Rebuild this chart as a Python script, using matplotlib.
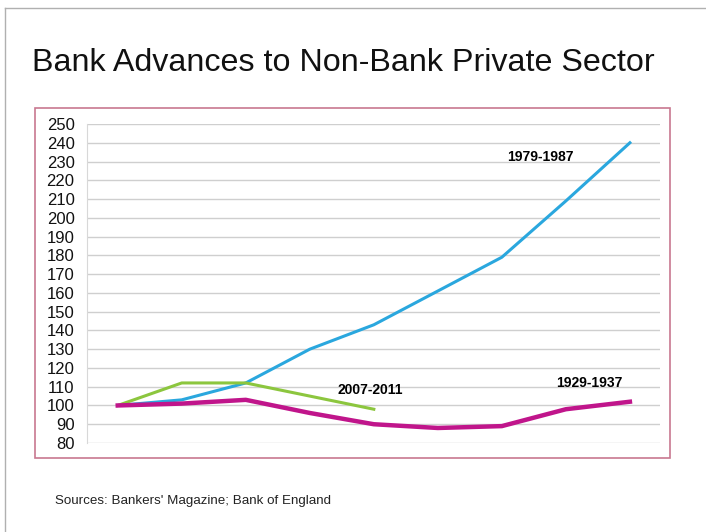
import matplotlib.pyplot as plt
from matplotlib.patches import Rectangle
from matplotlib.lines import Line2D

plt.rcParams['font.family'] = ['Liberation Sans', 'DejaVu Sans']

# index of advances, first year = 100
periods = ["1979-1987", "1929-1937", "2007-2011"]
years_1979 = [0, 1, 2, 3, 4, 5, 6, 7, 8]
adv_1979 = [100, 103, 112, 130, 143, 161, 179, 209, 240]
years_1929 = [0, 1, 2, 3, 4, 5, 6, 7, 8]
adv_1929 = [100, 101, 103, 96, 90, 88, 89, 98, 102]
years_2007 = [0, 1, 2, 3, 4]
adv_2007 = [100, 112, 112, 105, 98]

yticks = list(range(80, 260, 10))

fig = plt.figure(figsize=(7.06, 5.32), dpi=100)

# slide frame and chart box
fig.add_artist(Line2D([0.007, 0.007], [0.0, 0.985], color='#b0b0b0', lw=1))
fig.add_artist(Line2D([0.007, 1.0], [0.985, 0.985], color='#b0b0b0', lw=1))
fig.add_artist(Rectangle((0.050, 1 - 458 / 532), (670 - 35) / 706, (458 - 108) / 532,
                         fill=False, edgecolor='#c87890', lw=1.2))

fig.text(0.046, 0.881, "Bank Advances to Non-Bank Private Sector",
         fontsize=23.2, ha='left', va='center', color='#111111')
fig.text(0.078, 0.058, "Sources: Bankers' Magazine; Bank of England",
         fontsize=9.6, ha='left', va='center', color='#222222')

ax = fig.add_axes([87 / 706, 1 - 443 / 532, (660 - 87) / 706, (443 - 124) / 532])
ax.set_xlim(-0.48, 8.47)
ax.set_ylim(80, 250)
ax.set_yticks(yticks)
ax.set_xticks([])
ax.grid(axis='y', color='#cfcfcf', lw=1)
ax.set_axisbelow(True)
for side in ['top', 'right', 'bottom']:
    ax.spines[side].set_visible(False)
ax.spines['left'].set_color('#d8d8d8')
ax.tick_params(axis='y', length=0, pad=9, labelsize=12, labelcolor='#111111')

ax.plot(years_1979, adv_1979, color='#2aa7de', lw=2.2)
ax.plot(years_2007, adv_2007, color='#8cc63e', lw=2.2)
ax.plot(years_1929, adv_1929, color='#c0158b', lw=3.2)

ax.text(6.6, 232.5, periods[0], fontsize=10, fontweight='bold', ha='center', va='center')
ax.text(7.37, 112, periods[1], fontsize=10, fontweight='bold', ha='center', va='center')
ax.text(3.94, 108, periods[2], fontsize=10, fontweight='bold', ha='center', va='center')

fig.savefig("out.png", dpi=100)
